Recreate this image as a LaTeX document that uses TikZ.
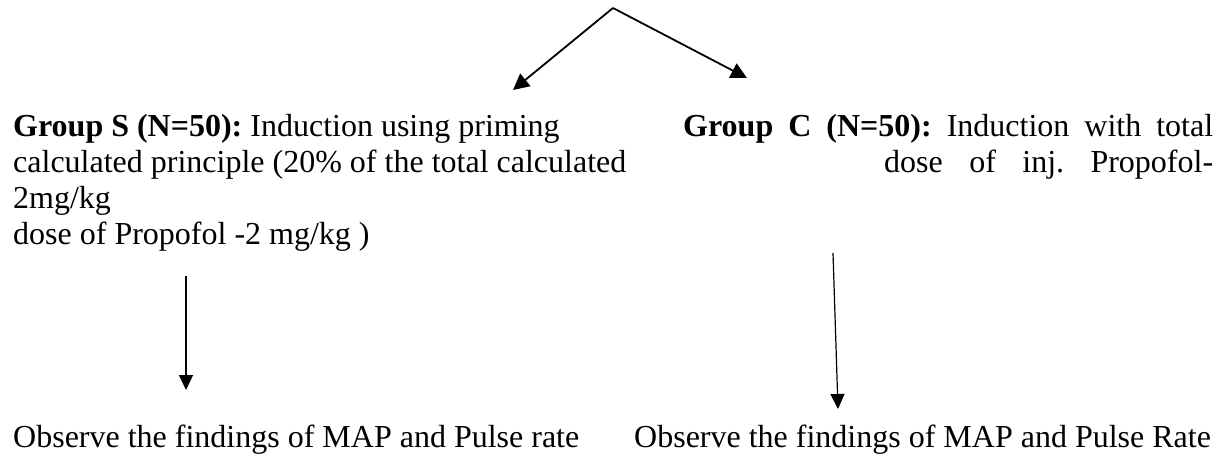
\documentclass[tikz,border=0pt]{standalone}
\usepackage{fontspec}
\setmainfont{Liberation Serif}
\usetikzlibrary{arrows.meta}
\begin{document}
\frenchspacing
\begin{tikzpicture}[x=1pt,y=-1pt,
  txt/.style={anchor=base west,inner sep=0pt,font=\fontsize{32}{36}\selectfont\frenchspacing},
  bigarrow/.style={line width=1.8pt,-{Triangle[length=16pt,width=16pt]}},
  downarrow/.style={line width=1.2pt,-{Triangle[length=15pt,width=14pt]}}]
\useasboundingbox (0,0) rectangle (1226,456);
% top split
\coordinate (apex) at (613,8);
\coordinate (tipS) at (513,90);
\coordinate (tipC) at (747,78);
\draw[bigarrow] (apex) -- (tipS);
\draw[bigarrow] (apex) -- (tipC);
% group S
\node[txt] (s1) at (13,136) {\textbf{Group S (N=50):} Induction using priming};
\node[txt] (s2) at (13,172) {calculated principle (20\% of the total calculated};
\node[txt] (s3) at (13,208) {2mg/kg};
\node[txt] (s4) at (13,244) {dose of Propofol -2 mg/kg )};
% group C
\node[txt] (c1) at (683,136) {\makebox[530pt][s]{\textbf{Group C (N=50):} Induction with total}};
\node[txt] (c2) at (884,172) {\makebox[329pt][s]{dose of inj. Propofol-}};
% down arrows
\coordinate (sdA) at (186,276);
\coordinate (sdB) at (186,390);
\coordinate (cdA) at (833,253);
\coordinate (cdB) at (838,409);
\draw[downarrow] (sdA) -- (sdB);
\draw[downarrow] (cdA) -- (cdB);
% results
\node[txt] (rS) at (13,447) {Observe the findings of MAP and Pulse rate};
\node[txt] (rC) at (634,447) {Observe the findings of MAP and Pulse Rate};
\end{tikzpicture}
\end{document}
